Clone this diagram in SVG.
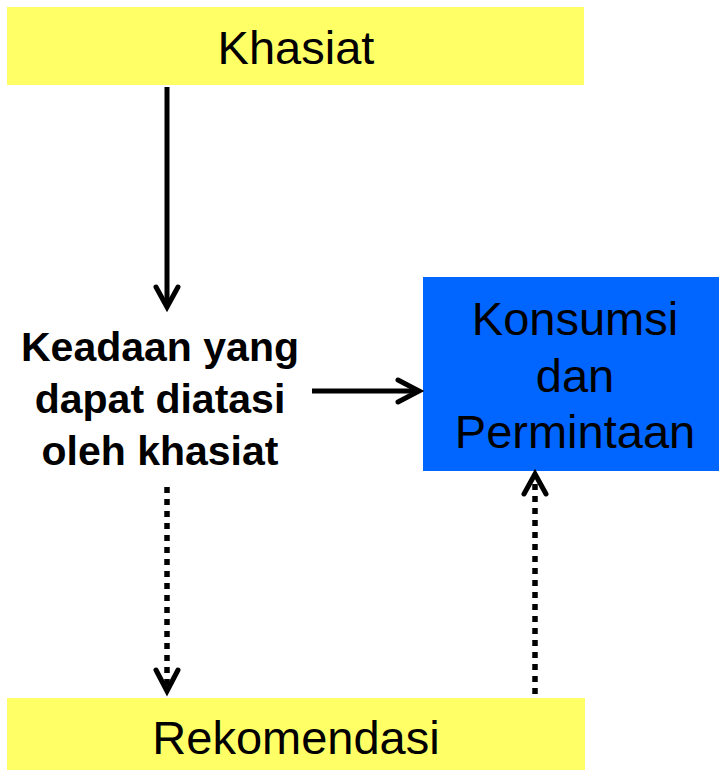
<svg xmlns="http://www.w3.org/2000/svg" width="719" height="770" viewBox="0 0 719 770">
<style>
.yb{fill:#FFFF66}
.bb{fill:#0066FF}
.t{font-family:"Liberation Sans",Arial,sans-serif;font-size:47px;fill:#000;text-anchor:middle}
.tb{font-family:"Liberation Sans",Arial,sans-serif;font-size:41px;font-weight:bold;fill:#000;text-anchor:middle}
.ln{stroke:#000;stroke-width:5;fill:none}
.dt{stroke:#000;stroke-width:5.5;fill:none;stroke-dasharray:6 6}
.hd{stroke:#000;stroke-width:5;fill:none;stroke-linecap:round;stroke-linejoin:miter}
</style>
<rect width="719" height="770" fill="#fff"/>
<g id="khasiat">
<rect class="yb" x="7" y="7" width="577" height="78"/>
<text class="t" x="296" y="64">Khasiat</text>
</g>
<g id="keadaan">
<text class="tb" x="160" y="361">Keadaan yang</text>
<text class="tb" x="160" y="413">dapat diatasi</text>
<text class="tb" x="160" y="465">oleh khasiat</text>
</g>
<g id="konsumsi">
<rect class="bb" x="423" y="277" width="296" height="194"/>
<text class="t" x="575" y="335">Konsumsi</text>
<text class="t" x="575" y="392">dan</text>
<text class="t" x="575" y="448">Permintaan</text>
</g>
<g id="rekomendasi">
<rect class="yb" x="7" y="698" width="578" height="72"/>
<text class="t" x="296" y="754">Rekomendasi</text>
</g>
<g id="connectors">
<line class="ln" x1="167" y1="87" x2="167" y2="306"/>
<polyline class="hd" points="156,287 167,307 178,287"/>
<line class="ln" x1="312" y1="391" x2="419" y2="391"/>
<polyline class="hd" points="398,380 419,391 398,402"/>
<line class="dt" x1="167" y1="487" x2="167" y2="690"/>
<polyline class="hd" points="156,670 167,691 178,670"/>
<line class="dt" x1="535" y1="694" x2="535" y2="478"/>
<polyline class="hd" points="524,494 535,474 546,494"/>
</g>
</svg>
